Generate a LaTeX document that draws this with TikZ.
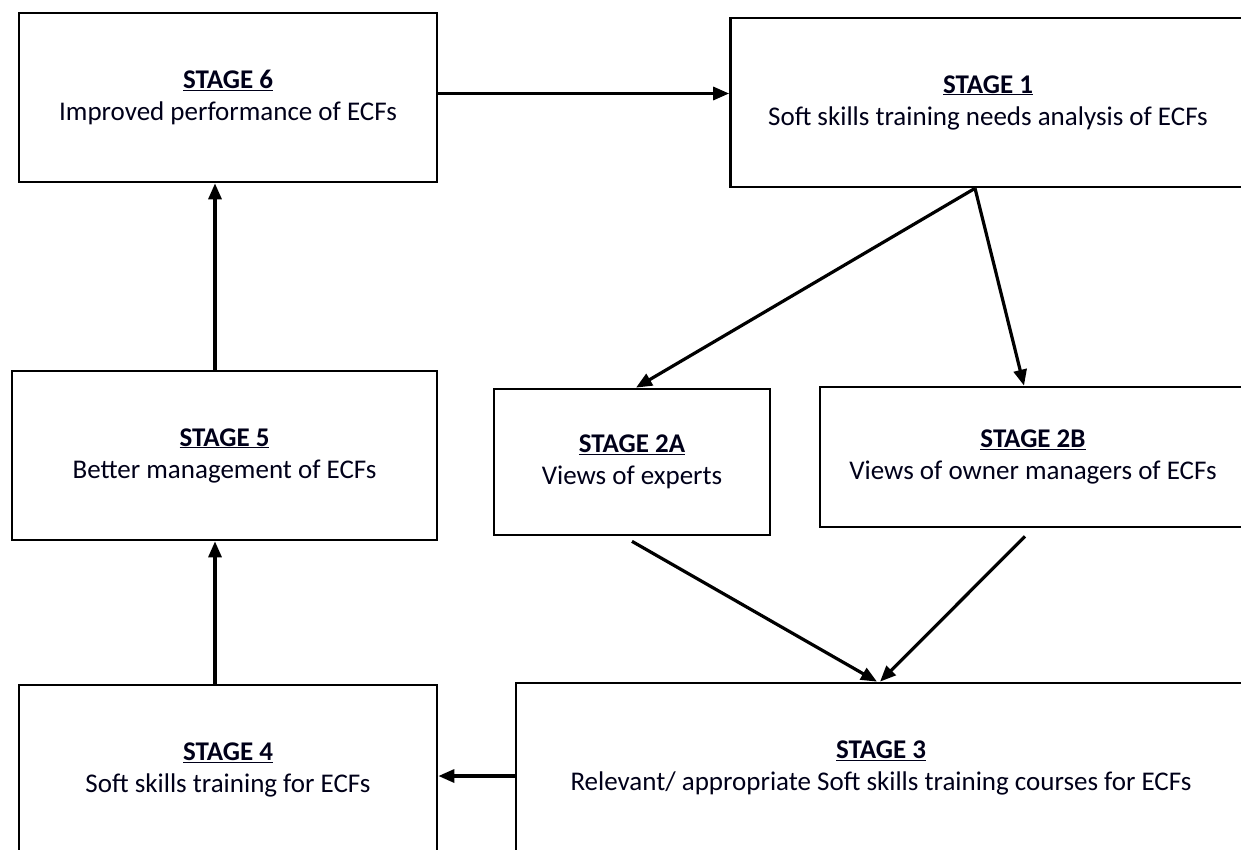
\documentclass[tikz,border=0pt]{standalone}
\usepackage{fontspec}
\setmainfont{Carlito}
\usetikzlibrary{arrows.meta}
\tikzset{
  stagebox/.style={draw=black, line width=2.7pt, fill=white, inner sep=0pt, align=center,
    font=\fontsize{27}{32}\selectfont, text=black!90!blue},
  flow/.style={line width=3.2pt, -{Triangle[length=16pt,width=13pt]}}
}
\newcommand{\stg}[1]{\underline{\textbf{#1}}}
\begin{document}
\begin{tikzpicture}[x=1pt,y=-1pt]
\useasboundingbox (0,0) rectangle (1241,850);
\clip (0,0) rectangle (1241,850);
\fill[white] (0,0) rectangle (1241,850);
\node[stagebox, minimum width=418pt, minimum height=169pt] (s6) at (228,97.5) {\stg{STAGE 6}\\Improved performance of ECFs};
\node[stagebox, minimum width=515pt, minimum height=169pt] (s1) at (988,102.5) {\stg{STAGE 1}\\Soft skills training needs analysis of ECFs};
\node[stagebox, minimum width=425pt, minimum height=169pt] (s5) at (224.5,455.5) {\stg{STAGE 5}\\Better management of ECFs};
\node[stagebox, minimum width=276pt, minimum height=146pt] (s2a) at (632,462) {\stg{STAGE 2A}\\Views of experts};
\node[stagebox, minimum width=426pt, minimum height=140pt] (s2b) at (1033,457) {\stg{STAGE 2B}\\Views of owner managers of ECFs};
\node[stagebox, minimum width=418pt, minimum height=170pt] (s4) at (228,770) {\stg{STAGE 4}\\Soft skills training for ECFs};
\node[stagebox, minimum width=730pt, minimum height=170pt] (s3) at (881,768) {\stg{STAGE 3}\\Relevant/ appropriate Soft skills training courses for ECFs};
\draw[flow] ([yshift=4pt]s6.east) -- ([yshift=4pt]s6.east -| s1.west);
\draw[flow] ([xshift=-13pt]s1.south) -- ([xshift=4pt]s2a.north);
\draw[flow] ([xshift=-13pt]s1.south) -- ([xshift=-9pt]s2b.north);
\draw[flow] ([yshift=-5pt]s2a.south) -- ([xshift=-4pt]s3.north);
\draw[flow] ([xshift=-8pt,yshift=-8pt]s2b.south) -- ([xshift=-1pt]s3.north);
\draw[flow] ([yshift=-8pt]s3.west) -- ([yshift=-8pt]s3.west -| s4.east);
\draw[flow] ([xshift=-13pt]s4.north) -- ([xshift=-13pt]s4.north |- s5.south);
\draw[flow] ([xshift=-9.5pt]s5.north) -- ([xshift=-9.5pt]s5.north |- s6.south);
\end{tikzpicture}
\end{document}
